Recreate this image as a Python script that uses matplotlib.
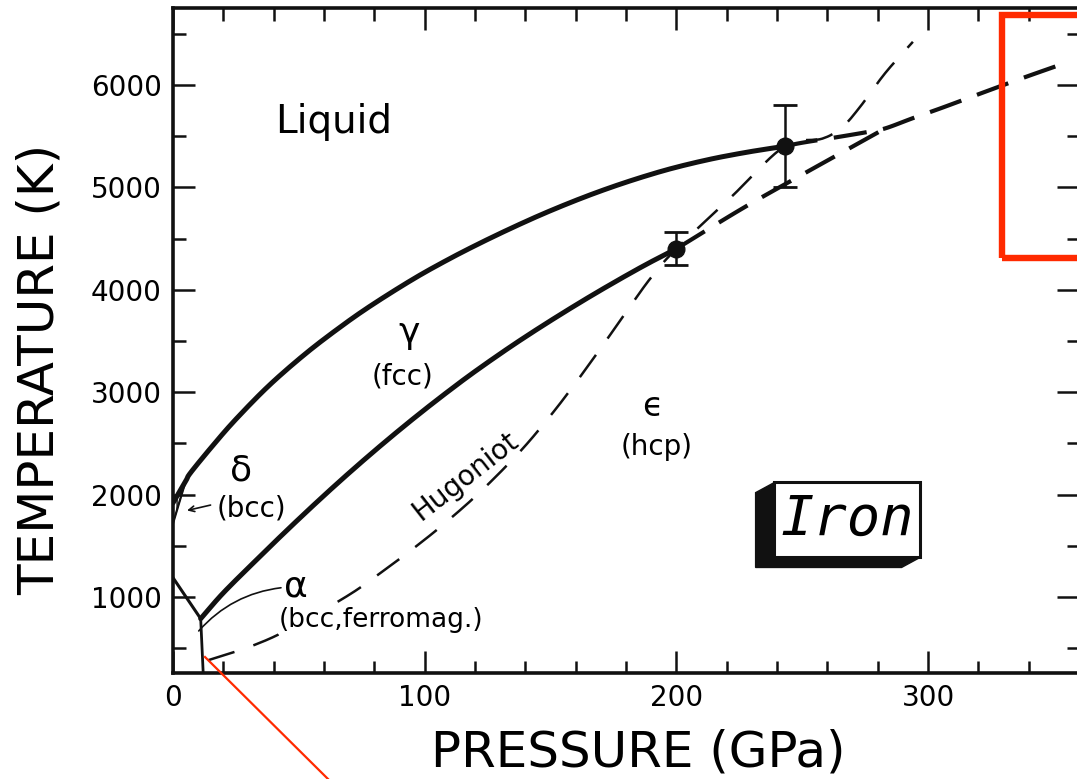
import numpy as np
import matplotlib
matplotlib.use("Agg")
import matplotlib.pyplot as plt
from matplotlib.patches import Polygon, Rectangle
from matplotlib.lines import Line2D

# Phase boundaries of iron (pressure in GPa, temperature in K)
melt_p = [0, 5, 7, 16, 25, 38, 52, 65, 78, 95, 109, 122, 135, 148, 162, 175, 188, 200, 214, 227, 237, 243]
melt_t = [1920, 2130, 2215, 2485, 2737, 3062, 3363, 3610, 3835, 4098, 4291, 4455, 4608, 4751, 4891, 5008, 5112, 5196, 5277, 5338, 5378, 5400]

gamma_eps_p = [11, 20, 33, 46, 60, 73, 86, 99, 112, 122, 135, 148, 162, 175, 188, 200]
gamma_eps_t = [790, 1042, 1360, 1670, 1992, 2278, 2551, 2811, 3058, 3238, 3459, 3667, 3880, 4068, 4247, 4400]

alpha_gamma_p = [0, 11]
alpha_gamma_t = [1190, 790]

alpha_eps_p = [11, 12]
alpha_eps_t = [790, 260]

delta_gamma_p = [0, 5]
delta_gamma_t = [1720, 2130]

# extrapolated boundaries (dashed)
melt_ext_p = [243, 250, 264, 276, 283, 294, 306, 323, 338, 353]
melt_ext_t = [5400, 5435, 5490, 5540, 5575, 5675, 5780, 5935, 6070, 6200]

gamma_eps_ext_p = [200, 226, 249, 268, 283]
gamma_eps_ext_t = [4400, 4790, 5110, 5370, 5575]

hug_p = [14, 31, 46, 69, 83, 98, 110, 123, 138, 150, 160, 171, 180, 190, 200, 222, 243, 258, 266, 273, 283, 294]
hug_t = [385, 521, 686, 1008, 1246, 1523, 1763, 2049, 2424, 2772, 3092, 3466, 3781, 4121, 4400, 4910, 5400, 5475, 5590, 5785, 6115, 6420]

# shock melting measurements
pt_p = [200, 243]
pt_t = [4400, 5400]
pt_err = [160, 400]


def smooth(xs, ys, n=10):
    """Catmull-Rom curve passing through every given point."""
    pts = np.column_stack([xs, ys]).astype(float)
    if len(pts) < 3:
        return pts[:, 0], pts[:, 1]
    ext = np.vstack([2 * pts[0] - pts[1], pts, 2 * pts[-1] - pts[-2]])
    out = []
    s = np.linspace(0, 1, n, endpoint=False)[:, None]
    for i in range(1, len(ext) - 2):
        p0, p1, p2, p3 = ext[i - 1], ext[i], ext[i + 1], ext[i + 2]
        seg = 0.5 * (2 * p1 + (-p0 + p2) * s
                     + (2 * p0 - 5 * p1 + 4 * p2 - p3) * s ** 2
                     + (-p0 + 3 * p1 - 3 * p2 + p3) * s ** 3)
        out.append(seg)
    out.append(pts[-1][None, :])
    out = np.vstack(out)
    return out[:, 0], out[:, 1]


W, H = 1077, 779
fig = plt.figure(figsize=(W / 100, H / 100), dpi=100)
ax = fig.add_axes([173 / W, 1 - 673 / H, (1079 - 173) / W, (673 - 8) / H])
ax.set_xlim(0, 360)
ax.set_ylim(260, 6750)

ink = "#111111"

ax.plot(*smooth(melt_p, melt_t), color=ink, lw=3.6, solid_capstyle="round", zorder=3)
ax.plot(*smooth(gamma_eps_p, gamma_eps_t), color=ink, lw=3.6, solid_capstyle="round", zorder=3)
ax.plot(alpha_gamma_p, alpha_gamma_t, color=ink, lw=2.2, zorder=3)
ax.plot(alpha_eps_p, alpha_eps_t, color=ink, lw=2.0, zorder=3)
ax.plot(delta_gamma_p, delta_gamma_t, color=ink, lw=1.6, zorder=3)

# small delta field, hatched
dp = list(delta_gamma_p) + melt_p[:2][::-1]
dt = list(delta_gamma_t) + melt_t[:2][::-1]
ax.add_patch(Polygon(list(zip(dp, dt)), closed=True, fill=False, hatch="||||",
                     lw=0.8, ec=ink, zorder=2))

ax.plot(*smooth(melt_ext_p, melt_ext_t), color=ink, lw=3.0, ls=(0, (8, 4)), zorder=3)
ax.plot(*smooth(gamma_eps_ext_p, gamma_eps_ext_t), color=ink, lw=3.0, ls=(0, (8, 4)), zorder=3)
ax.plot(*smooth(hug_p, hug_t), color=ink, lw=1.8, ls=(0, (11, 8)), zorder=2)

ax.errorbar(pt_p, pt_t, yerr=pt_err, fmt="o", color=ink, ms=12, capsize=8.5,
            elinewidth=1.8, capthick=2.0, zorder=5)

# axes styling
ax.set_xticks([0, 100, 200, 300])
ax.set_xticks(np.arange(0, 361, 20), minor=True)
ax.set_yticks([1000, 2000, 3000, 4000, 5000, 6000])
ax.set_yticks(np.arange(500, 6751, 500), minor=True)
ax.tick_params(which="both", direction="in", top=True, right=True, width=1.8, color=ink)
ax.tick_params(which="major", length=16, labelsize=20, pad=8)
ax.tick_params(which="minor", length=9)
for s in ax.spines.values():
    s.set_linewidth(2.6)
    s.set_color(ink)

ax.set_xlabel("PRESSURE (GPa)", fontsize=36)
ax.xaxis.set_label_coords(0.514, -0.083)
ax.set_ylabel("TEMPERATURE (K)", fontsize=36)
ax.yaxis.set_label_coords(-0.1203, 0.457)

# phase labels
ax.text(64, 5640, "Liquid", fontsize=28, ha="center", va="center")
ax.text(94, 3580, "γ", fontsize=26, ha="center", va="center")
ax.text(91, 3150, "(fcc)", fontsize=20, ha="center", va="center")
ax.text(27, 2240, "δ", fontsize=26, ha="center", va="center")
ax.text(31, 1870, "(bcc)", fontsize=20, ha="center", va="center")
ax.text(49, 1100, "α", fontsize=26, ha="center", va="center")
ax.text(82.5, 775, "(bcc,ferromag.)", fontsize=19, ha="center", va="center",
        bbox=dict(fc="white", ec="none", pad=0.5), zorder=4)
ax.text(190.5, 2860, "ϵ", fontsize=24, ha="center", va="center")
ax.text(192, 2465, "(hcp)", fontsize=20, ha="center", va="center")
ax.text(116, 2180, "Hugoniot", fontsize=20, ha="center", va="center",
        rotation=38, rotation_mode="anchor")

# pointer lines
ax.annotate("", xy=(9.5, 650), xytext=(44, 1095),
            arrowprops=dict(arrowstyle="-", lw=1.2, color=ink,
                            connectionstyle="arc3,rad=0.2"))
ax.annotate("", xy=(4.5, 1840), xytext=(16, 1905),
            arrowprops=dict(arrowstyle="->", lw=1.2, color=ink,
                            mutation_scale=10))

# "Iron" block with 3D shadow
x0, x1, y0, y1 = 239, 297, 1390, 2120
dx, dy = -7.5, -100
ax.add_patch(Polygon([(x0, y1), (x0 + dx, y1 + dy), (x0 + dx, y0 + dy), (x0, y0)],
                     closed=True, fc=ink, ec=ink, lw=1, zorder=6))
ax.add_patch(Polygon([(x0, y0), (x1, y0), (x1 + dx, y0 + dy), (x0 + dx, y0 + dy)],
                     closed=True, fc=ink, ec=ink, lw=1, zorder=6))
ax.add_patch(Rectangle((x0, y0), x1 - x0, y1 - y0, fc="white", ec=ink, lw=2.2, zorder=7))
ax.text((x0 + x1) / 2, (y0 + y1) / 2, "Iron", fontsize=40, family="DejaVu Sans Mono",
        style="oblique", ha="center", va="center", zorder=8)

# red highlight marks
red = "#ff2a00"
fig.add_artist(Rectangle((1002 / W, 1 - 258 / H), (1100 - 1002) / W, (258 - 15) / H,
                         transform=fig.transFigure, fill=False, ec=red, lw=4.6))
fig.add_artist(Line2D([205 / W, 328 / W], [1 - 657 / H, 1 - 779 / H],
                      transform=fig.transFigure, color=red, lw=1.6))

fig.savefig("out.png", dpi=100)
